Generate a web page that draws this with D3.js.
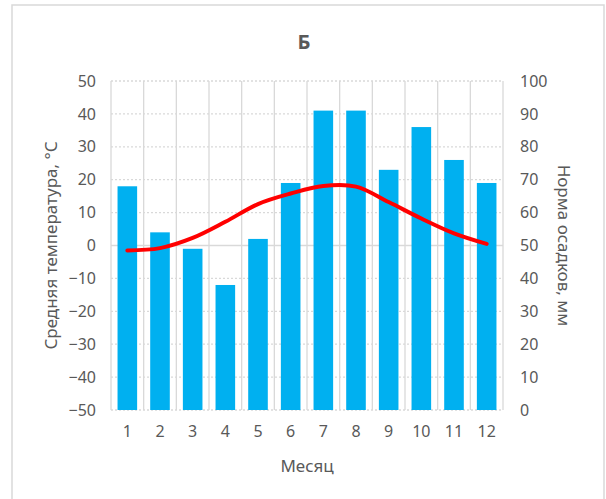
<!DOCTYPE html>
<html>
<head>
<meta charset="utf-8">
<script src="https://cdn.jsdelivr.net/npm/d3@7"></script>
<style>
  body { margin: 0; background: #fff; }
  text { font-family: "Noto Sans", "Open Sans", "DejaVu Sans", sans-serif; fill: #595959; }
</style>
</head>
<body>
<div id="my_dataviz"></div>
<script>
// data
var months = ["1", "2", "3", "4", "5", "6", "7", "8", "9", "10", "11", "12"];
var precip = [68, 54, 49, 38, 52, 69, 91, 91, 73, 86, 76, 69];
var temperature = [-1.5, -0.8, 2.3, 7.2, 12.6, 15.8, 18.1, 17.9, 13.2, 8.2, 3.7, 0.5];
var tempTicks = [-50, -40, -30, -20, -10, 0, 10, 20, 30, 40, 50];
var precipTicks = [0, 10, 20, 30, 40, 50, 60, 70, 80, 90, 100];

var W = 606, H = 499;
var margin = {top: 81, left: 111, right: 103, bottom: 89};
var width = W - margin.left - margin.right;
var height = H - margin.top - margin.bottom;

var svg = d3.select("#my_dataviz").append("svg")
    .attr("width", W)
    .attr("height", H);

// chart border
svg.append("rect")
    .attr("x", 12).attr("y", 5)
    .attr("width", 592).attr("height", 500)
    .attr("fill", "white")
    .attr("stroke", "#d9d9d9")
    .attr("stroke-width", 1.5);

svg.append("text")
    .attr("x", 304).attr("y", 49)
    .attr("text-anchor", "middle")
    .style("font-size", "20px")
    .style("font-weight", "bold")
    .text("Б");

var g = svg.append("g")
    .attr("transform", "translate(" + margin.left + "," + margin.top + ")");

var x = d3.scaleBand().domain(months).range([0, width]).paddingInner(0).paddingOuter(0);
var yTemp = d3.scaleLinear().domain([-50, 50]).range([height, 0]);
var yPrecip = d3.scaleLinear().domain([0, 100]).range([height, 0]);

// horizontal gridlines (dotted), zero line solid
g.selectAll(".hgrid")
    .data(tempTicks)
    .enter()
    .append("line")
    .attr("x1", 0).attr("x2", width)
    .attr("y1", function (d) { return yTemp(d); })
    .attr("y2", function (d) { return yTemp(d); })
    .attr("stroke", "#d9d9d9")
    .attr("stroke-width", function (d) { return d == 0 ? 1.5 : 1.3; })
    .attr("stroke-dasharray", function (d) { return d == 0 ? null : "2,2"; });

// vertical gridlines at category boundaries
var bounds = months.map(function (m) { return x(m); }).concat([width]);
g.selectAll(".vgrid")
    .data(bounds)
    .enter()
    .append("line")
    .attr("x1", function (d) { return d; })
    .attr("x2", function (d) { return d; })
    .attr("y1", 0).attr("y2", height)
    .attr("stroke", "#d9d9d9")
    .attr("stroke-width", 1.3);

// bars (right axis)
var barW = x.bandwidth() * 0.6;
g.selectAll(".bar")
    .data(precip)
    .enter()
    .append("rect")
    .attr("x", function (d, i) { return x(months[i]) + (x.bandwidth() - barW) / 2; })
    .attr("y", function (d) { return yPrecip(d); })
    .attr("width", barW)
    .attr("height", function (d) { return height - yPrecip(d); })
    .attr("fill", "#00b0f0");

// temperature line (left axis)
var line = d3.line()
    .x(function (d, i) { return x(months[i]) + x.bandwidth() / 2; })
    .y(function (d) { return yTemp(d); })
    .curve(d3.curveCatmullRom.alpha(0.5));
g.append("path")
    .datum(temperature)
    .attr("d", line)
    .attr("fill", "none")
    .attr("stroke", "#ff0000")
    .attr("stroke-width", 4)
    .attr("stroke-linecap", "round");

// left axis
var leftAxis = g.append("g")
    .call(d3.axisLeft(yTemp).tickValues(tempTicks).tickSize(0).tickPadding(15));
leftAxis.select(".domain").remove();
leftAxis.selectAll("text").style("font-size", "16px").attr("fill", "#595959");

// right axis
var rightAxis = g.append("g")
    .attr("transform", "translate(" + width + ",0)")
    .call(d3.axisRight(yPrecip).tickValues(precipTicks).tickSize(0).tickPadding(17));
rightAxis.select(".domain").remove();
rightAxis.selectAll("text").style("font-size", "16px").attr("fill", "#595959");

// bottom axis
var bottomAxis = g.append("g")
    .attr("transform", "translate(0," + height + ")")
    .call(d3.axisBottom(x).tickSize(0).tickPadding(16));
bottomAxis.select(".domain").remove();
bottomAxis.selectAll("text").style("font-size", "16px").attr("fill", "#595959");

// axis titles
svg.append("text")
    .attr("transform", "translate(57," + (margin.top + height / 2) + ") rotate(-90)")
    .attr("text-anchor", "middle")
    .style("font-size", "17px")
    .text("Средняя температура, °С");

svg.append("text")
    .attr("transform", "translate(558," + (margin.top + height / 2) + ") rotate(90)")
    .attr("text-anchor", "middle")
    .style("font-size", "17px")
    .text("Норма осадков, мм");

svg.append("text")
    .attr("x", margin.left + width / 2)
    .attr("y", 472)
    .attr("text-anchor", "middle")
    .style("font-size", "17px")
    .text("Месяц");
</script>
</body>
</html>
